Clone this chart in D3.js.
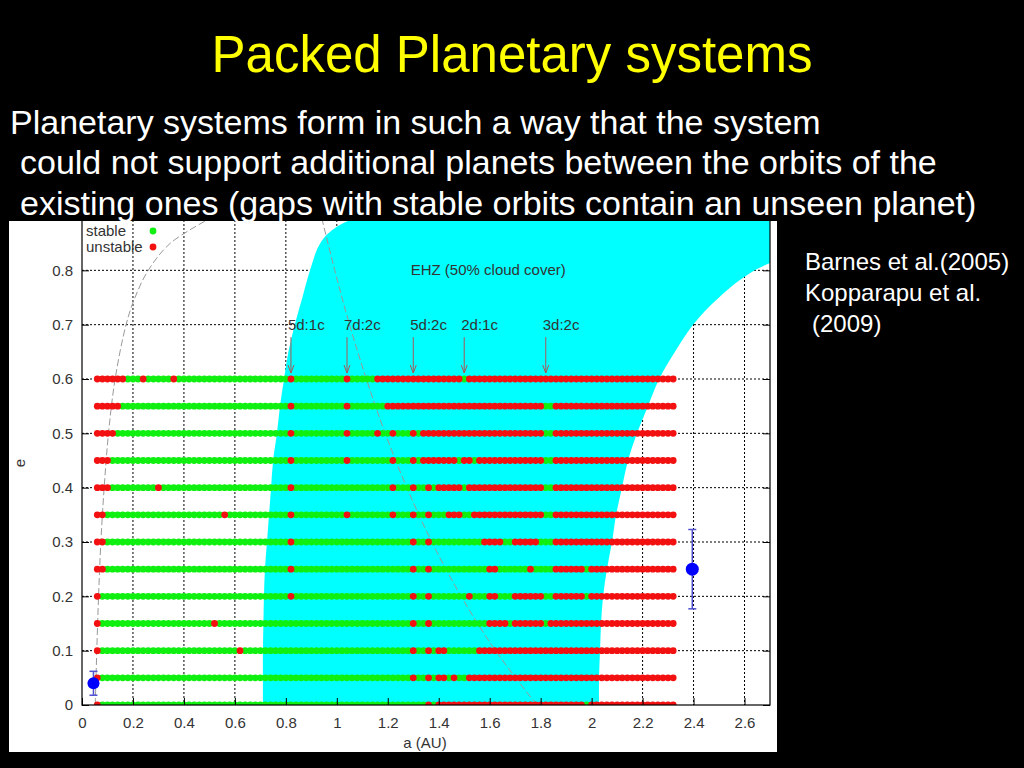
<!DOCTYPE html>
<html>
<head>
<meta charset="utf-8">
<script src="https://cdnjs.cloudflare.com/ajax/libs/d3/7.8.5/d3.min.js"></script>
<style>
body { margin: 0; background: #000; }
svg { display: block; font-family: "Liberation Sans", Arial, sans-serif; }
</style>
</head>
<body>
<svg id="slide" width="1024" height="768"></svg>
<script>
// rows of the test-planet grid (eccentricity)
var eccRows = [0.6, 0.55, 0.5, 0.45, 0.4, 0.35, 0.3, 0.25, 0.2, 0.15, 0.1, 0.05, 0];

// test-planet semi-major axes (AU) sampled in every row
var aStart = 0.06, aStep = 0.02, aCount = 114;

// unstable test planets per row: single a values or [from, to] runs
var unstableRuns = [
  [[0.06, 0.16], 0.24, 0.36, 0.82, 1.04, [1.16, 1.48], [1.52, 2.32]],
  [[0.06, 0.14], 0.82, 1.04, [1.20, 1.80], [1.86, 2.32]],
  [[0.06, 0.12], 0.82, 1.04, 1.16, 1.22, 1.30, [1.34, 1.80], [1.86, 2.32]],
  [[0.06, 0.10], 0.82, 1.04, 1.22, 1.30, [1.34, 1.46], [1.50, 1.52], [1.56, 1.80], [1.86, 2.32]],
  [[0.06, 0.10], 0.30, 0.82, 1.22, 1.30, 1.36, [1.40, 1.48], [1.52, 1.80], [1.86, 2.32]],
  [[0.06, 0.08], 0.56, 0.82, 1.04, 1.22, 1.30, 1.36, [1.44, 1.48], [1.54, 1.80], [1.86, 2.32]],
  [[0.06, 0.08], 0.82, 1.30, 1.36, [1.58, 1.64], [1.70, 1.78], [1.86, 2.32]],
  [[0.06, 0.08], 0.82, 1.30, 1.36, [1.60, 1.62], 1.76, [1.86, 1.96], [2.00, 2.32]],
  [0.06, 0.82, 1.30, 1.36, 1.52, [1.60, 1.62], [1.70, 1.80], [1.86, 1.96], [2.00, 2.32]],
  [0.06, 0.52, 1.30, 1.36, [1.60, 1.66], [1.70, 1.80], [1.84, 2.32]],
  [0.06, 0.62, 1.30, 1.36, [1.40, 1.42], [1.56, 2.32]],
  [0.06, 1.30, 1.36, [1.40, 1.42], 1.46, [1.52, 2.32]],
  [0.06, 1.36, [1.40, 1.96], [2.00, 2.32]]
];

// EHZ (50% cloud cover) edges, a (AU) at each eccentricity
var ehzEcc   = [-0.02, 0, 0.05, 0.1, 0.15, 0.2, 0.25, 0.3, 0.35, 0.4, 0.45, 0.5, 0.55, 0.6, 0.65, 0.7, 0.75, 0.8, 0.85, 0.88, 0.92];
var ehzInner = [0.710, 0.710, 0.710, 0.710, 0.712, 0.714, 0.718, 0.726, 0.734, 0.742, 0.750, 0.765, 0.777, 0.793, 0.81, 0.835, 0.865, 0.895, 0.935, 1.0, 1.2];
var ehzOuter = [2.029, 2.029, 2.029, 2.033, 2.037, 2.045, 2.060, 2.080, 2.096, 2.119, 2.143, 2.178, 2.221, 2.265, 2.327, 2.398, 2.50, 2.64, 2.9, 3.0, 3.0];

// orbit-crossing curves (dashed grey)
var crossInnerE = [0, 0.1, 0.2, 0.3, 0.4, 0.5, 0.6, 0.7, 0.75, 0.8, 0.85, 0.9];
var crossInnerA = [0.052, 0.058, 0.065, 0.074, 0.087, 0.104, 0.13, 0.173, 0.208, 0.26, 0.347, 0.52];
var crossOuterE = [0, 0.1, 0.2, 0.3, 0.4, 0.5, 0.6, 0.7, 0.8, 0.9];
var crossOuterA = [1.785, 1.623, 1.488, 1.373, 1.275, 1.19, 1.116, 1.05, 0.992, 0.939];

// mean-motion resonances marked with arrows
var resLabels = ["5d:1c", "7d:2c", "5d:2c", "2d:1c", "3d:2c"];
var resA = [0.82, 1.04, 1.30, 1.50, 1.82];

// known planets with eccentricity error bars
var planetA = [0.045, 2.395];
var planetE = [0.04, 0.25];
var planetErr = [0.022, 0.073];

var xTicks = [0, 0.2, 0.4, 0.6, 0.8, 1, 1.2, 1.4, 1.6, 1.8, 2, 2.2, 2.4, 2.6];
var yTicks = [0, 0.1, 0.2, 0.3, 0.4, 0.5, 0.6, 0.7, 0.8];

var svg = d3.select("#slide");

svg.append("rect").attr("width", 1024).attr("height", 768).attr("fill", "#000");

// slide text
svg.append("text")
    .attr("x", 512).attr("y", 72)
    .attr("text-anchor", "middle")
    .attr("fill", "#ffff00")
    .attr("font-size", 51)
    .text("Packed Planetary systems");

var body = [
  {x: 10, y: 134, t: "Planetary systems form in such a way that the system"},
  {x: 20, y: 174, t: "could not support additional planets between the orbits of the"},
  {x: 20, y: 215, t: "existing ones (gaps with stable orbits contain an unseen planet)"}
];
svg.selectAll("text.body")
    .data(body)
  .enter().append("text")
    .attr("class", "body")
    .attr("x", function(d) { return d.x; })
    .attr("y", function(d) { return d.y; })
    .attr("fill", "#fff")
    .attr("font-size", 34)
    .text(function(d) { return d.t; });

var refs = [
  {x: 805, y: 270, t: "Barnes et al.(2005)"},
  {x: 805, y: 301, t: "Kopparapu et al."},
  {x: 812, y: 332, t: "(2009)"}
];
svg.selectAll("text.ref")
    .data(refs)
  .enter().append("text")
    .attr("class", "ref")
    .attr("x", function(d) { return d.x; })
    .attr("y", function(d) { return d.y; })
    .attr("fill", "#fff")
    .attr("font-size", 24)
    .text(function(d) { return d.t; });

// chart image
var img = {left: 9, top: 221, right: 777, bottom: 752};
var plot = {left: 82, top: 216, right: 770, bottom: 705};

var defs = svg.append("defs");
defs.append("clipPath").attr("id", "imgclip")
  .append("rect")
    .attr("x", img.left).attr("y", img.top)
    .attr("width", img.right - img.left).attr("height", img.bottom - img.top);
defs.append("clipPath").attr("id", "plotclip")
  .append("rect")
    .attr("x", plot.left).attr("y", img.top)
    .attr("width", plot.right - plot.left).attr("height", plot.bottom - img.top);

var chart = svg.append("g").attr("clip-path", "url(#imgclip)");
chart.append("rect")
    .attr("x", img.left).attr("y", img.top)
    .attr("width", img.right - img.left).attr("height", img.bottom - img.top)
    .attr("fill", "#fff");

var x = d3.scaleLinear().domain([0, 2.7]).range([plot.left, plot.right]);
var y = d3.scaleLinear().domain([0, 0.9]).range([plot.bottom, plot.top]);

var inner = chart.append("g").attr("clip-path", "url(#plotclip)");

// grid
inner.append("g")
    .selectAll("line")
    .data(xTicks.slice(1))
  .enter().append("line")
    .attr("x1", function(d) { return x(d); }).attr("x2", function(d) { return x(d); })
    .attr("y1", plot.top).attr("y2", plot.bottom)
    .attr("stroke", "#000").attr("stroke-width", 1).attr("stroke-dasharray", "2,2");
inner.append("g")
    .selectAll("line")
    .data(yTicks.slice(1))
  .enter().append("line")
    .attr("x1", plot.left).attr("x2", plot.right)
    .attr("y1", function(d) { return y(d); }).attr("y2", function(d) { return y(d); })
    .attr("stroke", "#000").attr("stroke-width", 1).attr("stroke-dasharray", "2,2");

// EHZ
var ehz = d3.area()
    .y(function(d, i) { return y(ehzEcc[i]); })
    .x0(function(d, i) { return x(ehzInner[i]); })
    .x1(function(d, i) { return x(ehzOuter[i]); })
    .curve(d3.curveCatmullRom);
inner.append("path")
    .datum(ehzEcc)
    .attr("d", ehz)
    .attr("fill", "#00ffff");

// orbit crossing curves
var crossLine = d3.line()
    .x(function(d) { return x(d[0]); })
    .y(function(d) { return y(d[1]); })
    .curve(d3.curveCatmullRom);
[[crossInnerA, crossInnerE], [crossOuterA, crossOuterE]].forEach(function(c) {
    inner.append("path")
        .datum(c[0].map(function(a, i) { return [a, c[1][i]]; }))
        .attr("d", crossLine)
        .attr("fill", "none")
        .attr("stroke", "#999")
        .attr("stroke-width", 1)
        .attr("stroke-dasharray", "7,3");
});

// stability grid
var aGrid = d3.range(aCount).map(function(i) { return +(aStart + i * aStep).toFixed(2); });

function isUnstable(a, runs) {
    return runs.some(function(r) {
        if (Array.isArray(r)) return a >= r[0] - 0.005 && a <= r[1] + 0.005;
        return Math.abs(a - r) < 0.005;
    });
}

var dots = [];
eccRows.forEach(function(e, row) {
    aGrid.forEach(function(a) {
        dots.push({a: a, e: e, bad: isUnstable(a, unstableRuns[row])});
    });
});

inner.append("g")
    .selectAll("circle")
    .data(dots.filter(function(d) { return !d.bad; }))
  .enter().append("circle")
    .attr("cx", function(d) { return x(d.a); })
    .attr("cy", function(d) { return y(d.e); })
    .attr("r", 3.4)
    .attr("fill", "#10f010");
inner.append("g")
    .selectAll("circle")
    .data(dots.filter(function(d) { return d.bad; }))
  .enter().append("circle")
    .attr("cx", function(d) { return x(d.a); })
    .attr("cy", function(d) { return y(d.e); })
    .attr("r", 3.4)
    .attr("fill", "#f21010");

// resonance arrows
var arrowCol = "#a85858";
var res = inner.append("g")
    .selectAll("g")
    .data(resA)
  .enter().append("g");
res.append("line")
    .attr("x1", function(d) { return x(d); }).attr("x2", function(d) { return x(d); })
    .attr("y1", y(0.677)).attr("y2", y(0.611))
    .attr("stroke", arrowCol).attr("stroke-width", 1);
res.append("path")
    .attr("d", function(d) {
        var px = x(d), py = y(0.611);
        return "M" + (px - 3) + "," + (py - 8) + "L" + px + "," + py + "L" + (px + 3) + "," + (py - 8);
    })
    .attr("fill", "none")
    .attr("stroke", arrowCol).attr("stroke-width", 1);
res.append("text")
    .attr("x", function(d) { return x(d) - 3; })
    .attr("y", y(0.69))
    .attr("fill", "#333")
    .attr("font-size", 15)
    .text(function(d, i) { return resLabels[i]; });

inner.append("text")
    .attr("x", x(1.29)).attr("y", y(0.80) + 5)
    .attr("fill", "#333")
    .attr("font-size", 15)
    .text("EHZ (50% cloud cover)");

// border and inward ticks
chart.append("rect")
    .attr("x", plot.left).attr("y", plot.top)
    .attr("width", plot.right - plot.left).attr("height", plot.bottom - plot.top)
    .attr("fill", "none").attr("stroke", "#000").attr("stroke-width", 1.2);

var xAxis = chart.append("g")
    .attr("transform", "translate(0," + plot.bottom + ")")
    .call(d3.axisBottom(x).tickValues(xTicks).tickSize(-7).tickPadding(12).tickFormat(d3.format("~g")));
var yAxis = chart.append("g")
    .attr("transform", "translate(" + plot.left + ",0)")
    .call(d3.axisLeft(y).tickValues(yTicks).tickSize(-7).tickPadding(9).tickFormat(d3.format("~g")));
chart.append("g")
    .attr("transform", "translate(" + plot.right + ",0)")
    .call(d3.axisRight(y).tickValues(yTicks).tickSize(-7).tickFormat(""));
[xAxis, yAxis].forEach(function(ax) {
    ax.select(".domain").remove();
    ax.selectAll("text").attr("font-size", 15).attr("fill", "#333")
        .attr("font-family", "Liberation Sans, Arial, sans-serif");
});
chart.selectAll(".tick line").attr("stroke", "#000");
chart.selectAll(".domain").remove();

chart.append("text")
    .attr("x", 425).attr("y", 748)
    .attr("text-anchor", "middle")
    .attr("fill", "#333").attr("font-size", 15)
    .text("a (AU)");
chart.append("text")
    .attr("transform", "translate(25,463) rotate(-90)")
    .attr("text-anchor", "middle")
    .attr("fill", "#333").attr("font-size", 15)
    .text("e");

// legend
var legend = [{t: "stable", c: "#10f010"}, {t: "unstable", c: "#f21010"}];
var lg = chart.append("g")
    .selectAll("g")
    .data(legend)
  .enter().append("g")
    .attr("transform", function(d, i) { return "translate(0," + (231 + i * 16) + ")"; });
lg.append("text")
    .attr("x", 86).attr("y", 5)
    .attr("fill", "#333").attr("font-size", 15)
    .text(function(d) { return d.t; });
lg.append("circle")
    .attr("cx", 153).attr("r", 3.4)
    .attr("fill", function(d) { return d.c; });

// planets
var pl = chart.append("g")
    .selectAll("g")
    .data(planetA)
  .enter().append("g");
pl.append("line")
    .attr("x1", function(d) { return x(d); }).attr("x2", function(d) { return x(d); })
    .attr("y1", function(d, i) { return y(planetE[i] - planetErr[i]); })
    .attr("y2", function(d, i) { return y(planetE[i] + planetErr[i]); })
    .attr("stroke", "#5050d0").attr("stroke-width", 1.5);
[-1, 1].forEach(function(s) {
    pl.append("line")
        .attr("x1", function(d) { return x(d) - 4; }).attr("x2", function(d) { return x(d) + 4; })
        .attr("y1", function(d, i) { return y(planetE[i] + s * planetErr[i]); })
        .attr("y2", function(d, i) { return y(planetE[i] + s * planetErr[i]); })
        .attr("stroke", "#5050d0").attr("stroke-width", 1.5);
});
pl.append("circle")
    .attr("cx", function(d) { return x(d); })
    .attr("cy", function(d, i) { return y(planetE[i]); })
    .attr("r", function(d, i) { return i === 0 ? 6 : 6.5; })
    .attr("fill", "#0000ff");
</script>
</body>
</html>
